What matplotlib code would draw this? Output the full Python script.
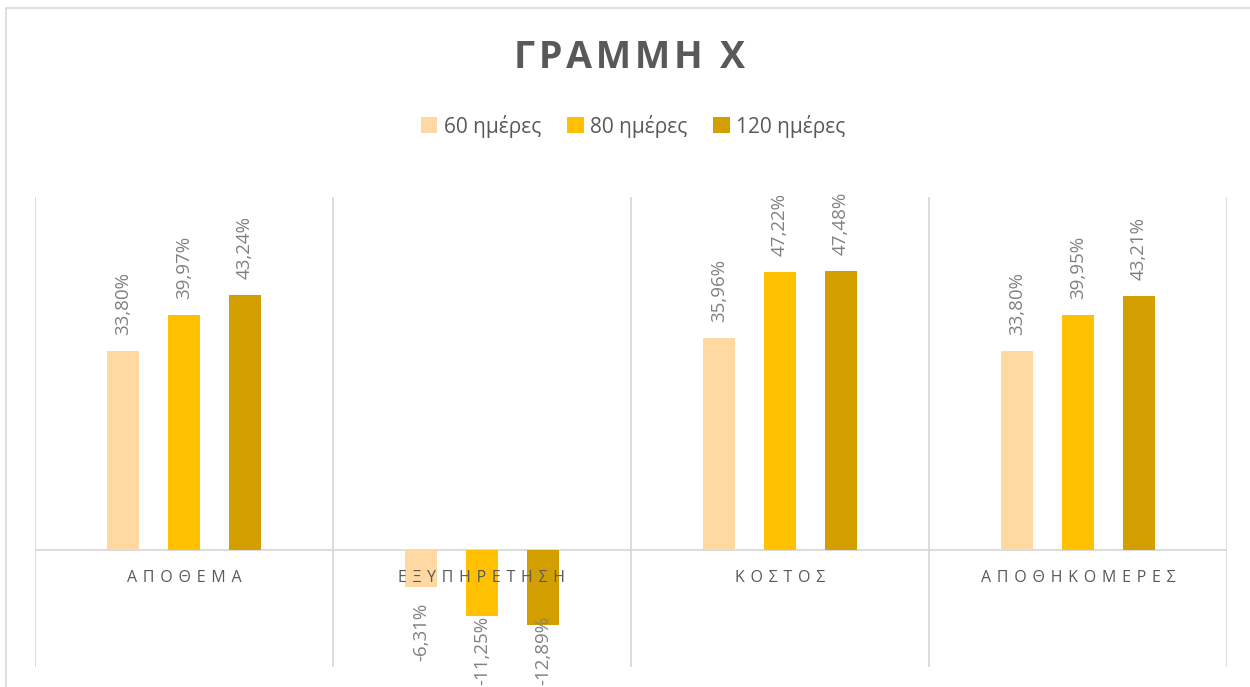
import matplotlib
matplotlib.use("Agg")
import matplotlib.pyplot as plt
from matplotlib.patches import Rectangle, Patch
import numpy as np

plt.rcParams['font.family'] = ['Open Sans', 'DejaVu Sans']

categories = ["ΑΠΟΘΕΜΑ", "ΕΞΥΠΗΡΕΤΗΣΗ", "ΚΟΣΤΟΣ", "ΑΠΟΘΗΚΟΜΕΡΕΣ"]
series_names = ["60 ημέρες", "80 ημέρες", "120 ημέρες"]
s60 = [33.80, -6.31, 35.96, 33.80]
s80 = [39.97, -11.25, 47.22, 39.95]
s120 = [43.24, -12.89, 47.48, 43.21]
title = "ΓΡΑΜΜΗ Χ"

colors = ["#FFD9A1", "#FFC000", "#D39F00"]
W, H = 1250, 687
DPI = 100
fig = plt.figure(figsize=(W / DPI, H / DPI), dpi=DPI)

# chart frame (only left and top edges visible)
fig.patches.append(Rectangle((6 / W, -0.1), 1.2, 1 - 8 / H + 0.1, transform=fig.transFigure,
                             fill=False, edgecolor="#d9d9d9", linewidth=1.2))

ax = fig.add_axes([35 / W, (H - 667) / H, (1227 - 35) / W, (667 - 197) / H])
ax.set_xlim(-0.5, 3.5)
ax.set_ylim(-20, 60)
for s in ax.spines.values():
    s.set_visible(False)
ax.set_xticks([])
ax.set_yticks([])

for b in np.arange(-0.5, 4.0, 1.0):
    ax.axvline(b, color="#d9d9d9", linewidth=1.3, zorder=1)
ax.axhline(0, color="#d9d9d9", linewidth=1.3, zorder=1)

x = np.arange(len(categories))
offset = 0.205
width = 0.107
neg_labels = []
for k, (vals, col) in enumerate(zip([s60, s80, s120], colors)):
    xs = x + (k - 1) * offset
    ax.bar(xs, vals, width=width, color=col, zorder=2)
    for xi, v in zip(xs, vals):
        lbl = f"{v:.2f}".replace(".", ",") + "%"
        if v >= 0:
            ax.annotate(lbl, (xi, v), xytext=(0, 11.5), textcoords="offset points",
                        rotation=90, ha="center", va="bottom", fontsize=13.5,
                        color="#808080", zorder=4)
        else:
            a = ax.annotate(lbl, (xi, v), xytext=(0, -11.5), textcoords="offset points",
                            rotation=90, ha="center", va="top", fontsize=13.5,
                            color="#808080", zorder=4, annotation_clip=False)
            neg_labels.append(a)

hair = " \u200a"
for xi, c in zip(x, categories):
    ax.text(xi, -4.8, hair.join(c), ha="center", va="center", fontsize=11.5,
            color="#595959", zorder=5)

fig.text(630 / W, 1 - 58 / H, "\u200a".join(title), ha="center", va="center", fontsize=27,
         fontweight="bold", color="#595959")

handles = [Patch(facecolor=c, edgecolor="none") for c in colors]
fig.legend(handles, series_names, loc="center", bbox_to_anchor=(633 / W, 1 - 126 / H),
           ncol=3, frameon=False, fontsize=15, handlelength=0.8, handleheight=0.8,
           handletextpad=0.3, columnspacing=1.25, labelcolor="#595959")

# keep negative labels inside the chart area (shift up if they overflow the bottom)
fig.canvas.draw()
renderer = fig.canvas.get_renderer()
for a in neg_labels:
    bb = a.get_window_extent(renderer)
    if bb.y0 < 2:
        shift_pts = (2 - bb.y0) * 72 / DPI
        ox, oy = a.xyann
        a.xyann = (ox, oy + shift_pts)

fig.savefig("out.png", dpi=DPI, facecolor="white")
